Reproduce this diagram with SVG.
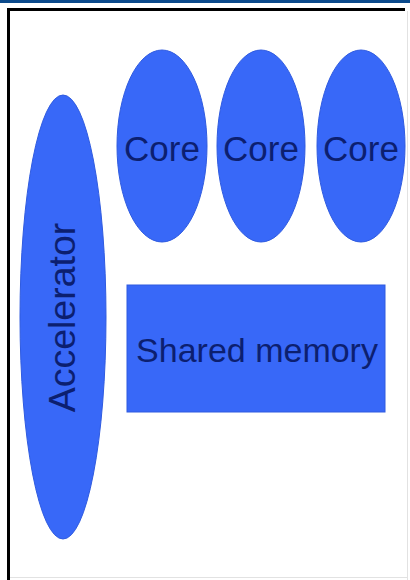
<svg xmlns="http://www.w3.org/2000/svg" width="410" height="580" viewBox="0 0 410 580">
  <style>
    .shape { fill: #3868f8; stroke: #2f5be0; stroke-width: 1; }
    .label { font-family: "Liberation Sans", Arial, sans-serif; fill: #0c1f70; text-anchor: middle; }
  </style>
  <!-- page background and frame -->
  <rect x="0" y="0" width="410" height="580" fill="#ffffff"/>
  <rect x="0" y="0" width="410" height="3" fill="#0b4a8c"/>
  <rect x="7" y="8" width="398" height="3" fill="#000000"/>
  <rect x="7" y="8" width="3" height="572" fill="#000000"/>
  <rect x="407" y="11" width="1" height="569" fill="#e2e2e2"/>
  <rect x="10" y="577" width="398" height="1" fill="#e2e2e2"/>

  <g id="connectors"></g>

  <g id="accelerator">
    <ellipse class="shape" cx="63" cy="317" rx="43" ry="222"/>
    <text class="label" font-size="37.5" transform="translate(75 317.5) rotate(-90)" x="0" y="0">Accelerator</text>
  </g>

  <g id="core1">
    <ellipse class="shape" cx="162" cy="146" rx="45" ry="96"/>
    <text class="label" font-size="35" x="162" y="161">Core</text>
  </g>
  <g id="core2">
    <ellipse class="shape" cx="261" cy="146" rx="44" ry="96"/>
    <text class="label" font-size="35" x="261" y="161">Core</text>
  </g>
  <g id="core3">
    <ellipse class="shape" cx="361" cy="146" rx="44" ry="96"/>
    <text class="label" font-size="35" x="361" y="161">Core</text>
  </g>

  <g id="shared-memory">
    <rect class="shape" x="127" y="285" width="258" height="127"/>
    <text class="label" font-size="34" x="257" y="362">Shared memory</text>
  </g>
</svg>
